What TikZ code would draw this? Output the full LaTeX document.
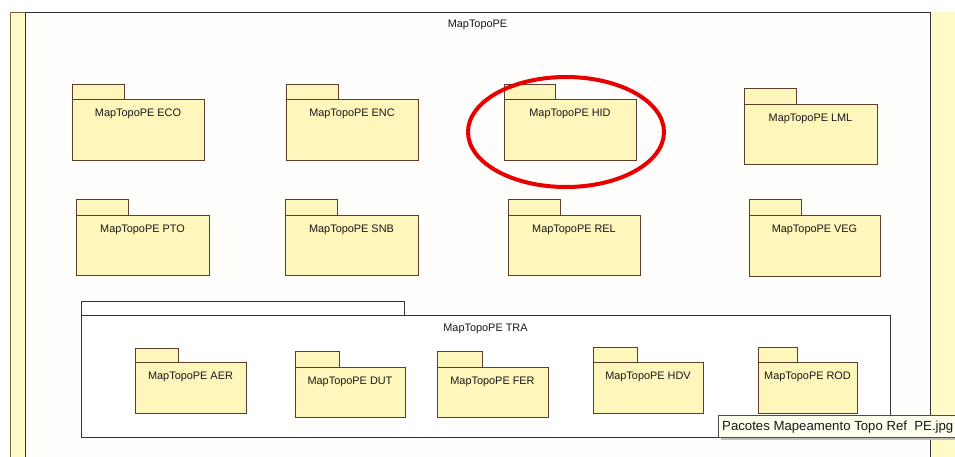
\documentclass[tikz,border=0pt]{standalone}
\usepackage{fontspec}
\setmainfont{Liberation Sans}
\definecolor{pkgfill}{RGB}{255,246,188}
\definecolor{pkgline}{RGB}{92,62,42}
\definecolor{stripfill}{RGB}{255,250,200}
\definecolor{stripline}{RGB}{120,100,60}
\definecolor{framefill}{RGB}{255,254,252}
\definecolor{ringred}{RGB}{232,0,0}
\definecolor{tipfill}{RGB}{255,255,238}
\tikzset{
  pkg/.style={draw=pkgline, fill=pkgfill, line width=1pt},
  pkglabel/.style={font=\fontsize{10.9}{12}\selectfont, text=black!90, inner sep=0pt},
  frameline/.style={draw=black!80, line width=1pt},
}
\newcommand\pkgbox[8]{%
  \draw[pkg] (#2,#4) rectangle (#3,#5);
  \draw[pkg] (#2,#5) rectangle (#6,#7);
  \node[pkglabel] (#1) at ({(#2+#6)/2},{#5+15}) {#8};
}
\begin{document}
\begin{tikzpicture}[x=1pt,y=-1pt]
\useasboundingbox (0,0) rectangle (955,456);
\clip (0,0) rectangle (955,456);
\fill[white] (0,0) rectangle (955,456);
% side strips
\filldraw[fill=stripfill, draw=stripline, line width=0.9pt] (10,12) rectangle (25,470);
\fill[stripfill] (930,12) rectangle (960,470);
% main frame
\filldraw[frameline, fill=framefill] (25,12) rectangle (930,470);
\node[pkglabel] (main) at (477.5,25) {MapTopoPE};
% top row
\pkgbox{eco}{72}{124}{84}{99}{204}{160}{MapTopoPE ECO}
\pkgbox{enc}{286}{338}{84}{99}{418}{160}{MapTopoPE ENC}
\pkgbox{hid}{504}{555}{84}{99}{636}{160}{MapTopoPE HID}
\pkgbox{lml}{744}{796}{88}{104}{877}{164}{MapTopoPE LML}
% second row
\pkgbox{pto}{76}{128}{199}{215}{209}{275}{MapTopoPE PTO}
\pkgbox{snb}{285}{337}{199}{215}{418}{275}{MapTopoPE SNB}
\pkgbox{rel}{508}{560}{199}{215}{640}{275}{MapTopoPE REL}
\pkgbox{veg}{749}{801}{199}{215}{880}{276}{MapTopoPE VEG}
% TRA package
\draw[frameline, fill=white] (81,301) rectangle (404,315);
\draw[frameline, fill=white] (81,315) rectangle (890,437);
\node[pkglabel] (tra) at (485.5,329) {MapTopoPE TRA};
\pkgbox{aer}{135}{178}{348}{362}{246}{413}{MapTopoPE AER}
\pkgbox{dut}{295}{339}{351}{367}{405}{417}{MapTopoPE DUT}
\pkgbox{fer}{437}{482}{351}{367}{548}{417}{MapTopoPE FER}
\pkgbox{hdv}{593}{637}{347}{362}{703}{413}{MapTopoPE HDV}
\pkgbox{rod}{758}{797}{347}{362}{857}{413}{MapTopoPE ROD}
% red ring
\draw[ringred, line width=4pt] (566,132) ellipse [x radius=98, y radius=55];
% tooltip
\fill[black!25] (721,418) rectangle (962,440);
\filldraw[fill=tipfill, draw=black!70, line width=0.8pt] (718,415) rectangle (960,437);
\node[anchor=west, inner sep=0pt, font=\fontsize{13.2}{15}\selectfont, text=black!90] (tip) at (722,427) {Pacotes Mapeamento Topo Ref\ \ PE.jpg};
\end{tikzpicture}
\end{document}
